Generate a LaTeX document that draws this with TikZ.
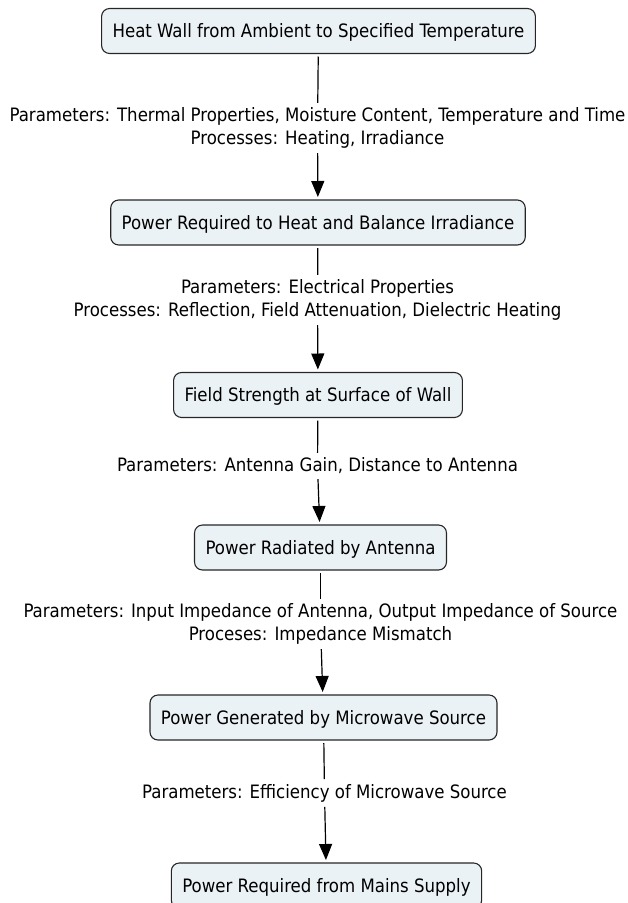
\documentclass[tikz,border=0pt]{standalone}
\usepackage{fontspec}
\setmainfont{DejaVu Sans Condensed}
\usetikzlibrary{arrows.meta}
\definecolor{boxfill}{RGB}{235,242,245}
\begin{document}
\begin{tikzpicture}[x=1pt,y=-1pt,
  concept/.style={draw=black!85, line width=1.1pt, fill=boxfill, rounded corners=8pt,
    minimum height=45pt, inner xsep=11pt, inner ysep=0pt, text height=13pt, text depth=0pt,
    outer sep=3pt, font=\fontsize{18.45}{22.5}\selectfont},
  linklabel/.style={align=center, inner sep=0pt, outer sep=5pt, font=\fontsize{18.45}{22.5}\selectfont},
  conn/.style={line width=1.2pt},
  arr/.style={line width=1.2pt, -{Triangle[length=16pt,width=13pt]}}]
\useasboundingbox (0,0) rectangle (628,903);
\node[concept] (n1) at (318.5,31) {Heat Wall from Ambient to Specified Temperature};
\node[concept] (n2) at (318,222.5) {Power Required to Heat and Balance Irradiance};
\node[concept] (n3) at (318,395) {Field Strength at Surface of Wall};
\node[concept] (n4) at (320.5,547.5) {Power Radiated by Antenna};
\node[concept] (n5) at (323.5,717.5) {Power Generated by Microwave Source};
\node[concept] (n6) at (326.5,885.5) {Power Required from Mains Supply};

\node[linklabel] (l1) at (317.5,128) {Parameters: Thermal Properties, Moisture Content, Temperature and Time\\Processes: Heating, Irradiance};
\node[linklabel] (l2) at (317.5,300) {Parameters: Electrical Properties\\Processes: Reflection, Field Attenuation, Dielectric Heating};
\node[linklabel] (l3) at (317.5,466) {Parameters: Antenna Gain, Distance to Antenna};
\node[linklabel] (l4) at (320.5,624) {Parameters: Input Impedance of Antenna, Output Impedance of Source\\Proceses: Impedance Mismatch};
\node[linklabel] (l5) at (324.5,793) {Parameters: Efficiency of Microwave Source};

\draw[conn] (n1) -- (l1);
\draw[arr] (l1) -- (n2);
\draw[conn] (n2) -- (l2);
\draw[arr] (l2) -- (n3);
\draw[conn] (n3) -- (l3);
\draw[arr] (l3) -- (n4);
\draw[conn] (n4) -- (l4);
\draw[arr] (l4) -- (n5);
\draw[conn] (n5) -- (l5);
\draw[arr] (l5) -- (n6);
\end{tikzpicture}
\end{document}
